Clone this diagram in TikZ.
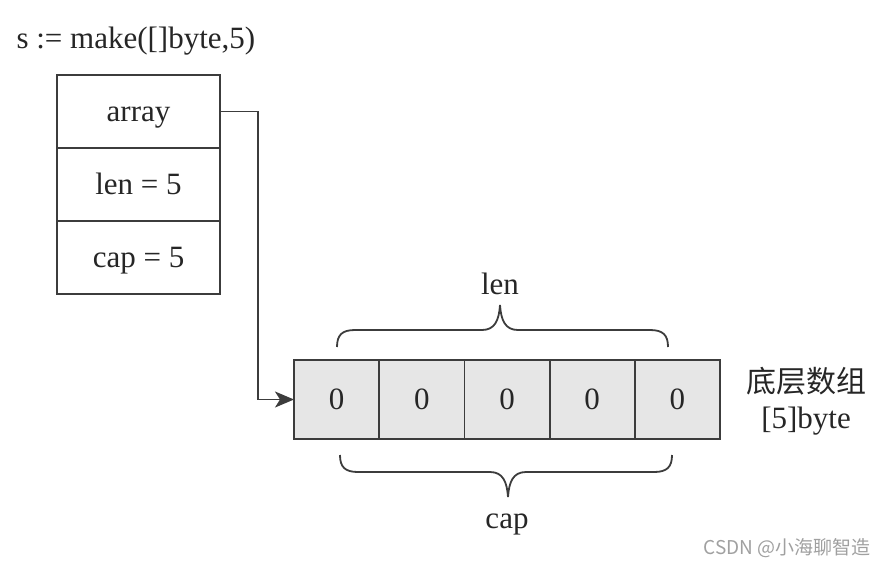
\documentclass[tikz,border=0pt]{standalone}
\usepackage{fontspec}
\setmainfont{Liberation Serif}
\newfontfamily\cjkfont{Noto Sans CJK SC}
\usetikzlibrary{arrows.meta, positioning}
\definecolor{linegray}{HTML}{3C3C3C}
\definecolor{cellgray}{HTML}{E6E6E6}
\definecolor{markgray}{HTML}{A0A0A0}

\begin{document}
\begin{tikzpicture}[x=1pt, y=-1pt,
  every node/.style={font=\fontsize{31}{36}\selectfont, text=black!85},
  field/.style={draw=linegray, line width=1.8pt, minimum width=163pt, minimum height=73pt, inner sep=0pt, outer sep=0pt, text height=23pt, text depth=3pt},
  cell/.style={draw=linegray, fill=cellgray, line width=1.8pt, minimum width=85.2pt, minimum height=79pt, inner sep=0pt, outer sep=0pt, text height=23pt, text depth=3pt},
  pointer/.style={draw=linegray, line width=1.8pt, -{Stealth[length=19pt, width=16pt, inset=5pt]}},
  brace/.style={draw=linegray, line width=1.8pt}]

\useasboundingbox (0,0) rectangle (888,566);

% slice header
\node[anchor=base west] (title) at (13,48) {s := make([]byte,5)};
\node[field] (f1) at (138.5,111.5) {array};
\node[field, below=0pt of f1] (f2) {len = 5};
\node[field, below=0pt of f2] (f3) {cap = 5};

% backing array
\node[cell] (c1) at (336.6,399.5) {0};
\foreach \i/\p in {2/1,3/2,4/3,5/4}
  \node[cell, right=0pt of c\p] (c\i) {0};

\node (arrname) at (806,381) {\cjkfont\fontsize{30}{36}\selectfont 底层数组};
\node (arrtype) at (806,421) {[5]byte};

% pointer
\draw[pointer] (f1.east) -- ++(38,0) |- (c1.west);

% len brace
\draw[brace] (337,347) .. controls (337,335) and (342,330) .. (355,330) -- (482,330)
  .. controls (495,330) and (499,320) .. (500,305)
  .. controls (501,320) and (505,330) .. (518,330) -- (650,330)
  .. controls (663,330) and (668,335) .. (668,347);
\node (lenlbl) at (500,284) {len};

% cap brace
\draw[brace] (340,455) .. controls (340,467) and (345,472) .. (358,472) -- (490,472)
  .. controls (503,472) and (507,482) .. (508,497)
  .. controls (509,482) and (513,472) .. (526,472) -- (654,472)
  .. controls (667,472) and (672,467) .. (672,455);
\node (caplbl) at (507,524) {cap};

\node[anchor=east, text=markgray, font=\cjkfont\fontsize{19}{22}\selectfont] (mark) at (874,548) {CSDN @小海聊智造};
\end{tikzpicture}
\end{document}
